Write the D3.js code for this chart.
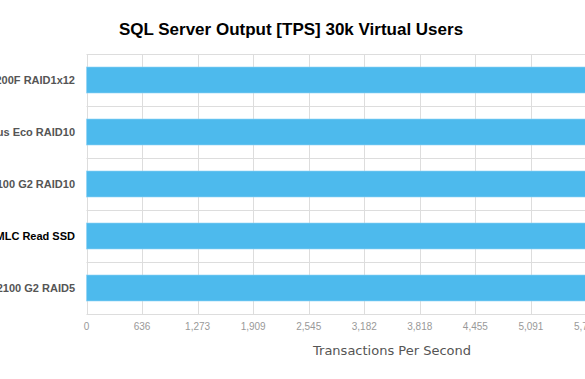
<!DOCTYPE html>
<html>
<head>
<meta charset="utf-8">
<script src="https://cdn.jsdelivr.net/npm/d3@7"></script>
<style>
  html, body { margin: 0; padding: 0; background: #fff; overflow: hidden; }
  svg { display: block; }
</style>
</head>
<body>
<svg id="chart" width="585" height="379"></svg>
<script>
// Data (bars extend past the visible area in the reference; values estimated)
const categories = [
  "200F RAID1x12",
  "us Eco RAID10",
  "100 G2 RAID10",
  "MLC Read SSD",
  "2100 G2 RAID5"
];
const tpsValues = [6200, 6150, 6250, 6300, 6100];
const highlighted = [false, false, false, true, false];
const tickValues = [0, 636.36, 1272.73, 1909.09, 2545.45, 3181.82, 3818.18, 4454.55, 5090.91, 5727.27, 6363.64, 7000];
const titleText = "SQL Server Output [TPS] 30k Virtual Users";
const xTitle = "Transactions Per Second";

const svg = d3.select("#chart");
const mLeft = 86.5, mTop = 54, mBottom = 314;
const plotRight = mLeft + 11 * 55.55;

const x = d3.scaleLinear().domain([0, 7000]).range([mLeft, plotRight]);
const y = d3.scaleBand().domain(categories).range([mTop, mBottom]).padding(0);

// grid: vertical
svg.append("g").selectAll("line").data(tickValues).join("line")
  .attr("x1", d => Math.round(x(d)) + 0.5).attr("x2", d => Math.round(x(d)) + 0.5)
  .attr("y1", mTop).attr("y2", mBottom)
  .attr("stroke", "#dddddd").attr("stroke-width", 1);

// grid: horizontal at band boundaries
const hLines = categories.map(c => y(c)).concat([mBottom]);
svg.append("g").selectAll("line").data(hLines).join("line")
  .attr("x1", mLeft).attr("x2", plotRight)
  .attr("y1", d => Math.round(d) + 0.5).attr("y2", d => Math.round(d) + 0.5)
  .attr("stroke", "#dddddd").attr("stroke-width", 1);

// bars
const bw = y.bandwidth();
svg.append("g").selectAll("rect").data(categories).join("rect")
  .attr("x", x(0))
  .attr("y", c => y(c) + bw * 0.25)
  .attr("width", (c, i) => x(tpsValues[i]) - x(0))
  .attr("height", bw * 0.5)
  .attr("fill", "#4dbaed")
  .attr("stroke", "#8fd3f5").attr("stroke-width", 0.6);

// category labels
svg.append("g").selectAll("text").data(categories).join("text")
  .attr("x", 75)
  .attr("y", c => y(c) + bw / 2)
  .attr("dy", "0.35em")
  .attr("text-anchor", "end")
  .attr("font-family", "Liberation Sans, Arial, Helvetica, sans-serif")
  .attr("font-weight", "bold")
  .attr("font-size", "11px")
  .attr("fill", (c, i) => highlighted[i] ? "#000000" : "#555555")
  .text(c => c);

// x tick labels
const fmt = d3.format(",.0f");
svg.append("g").selectAll("text").data(tickValues).join("text")
  .attr("x", d => x(d))
  .attr("y", 330)
  .attr("text-anchor", "middle")
  .attr("font-family", "Liberation Sans, Arial, Helvetica, sans-serif")
  .attr("font-size", "10px")
  .attr("fill", "#999999")
  .text(d => fmt(d));

// x axis title
svg.append("text")
  .attr("x", (mLeft + plotRight) / 2)
  .attr("y", 355)
  .attr("text-anchor", "middle")
  .attr("font-family", "DejaVu Sans, sans-serif")
  .attr("font-size", "13px")
  .attr("fill", "#555555")
  .text(xTitle);

// chart title
svg.append("text")
  .attr("x", 291)
  .attr("y", 35)
  .attr("text-anchor", "middle")
  .attr("font-family", "Liberation Sans, Arial, Helvetica, sans-serif")
  .attr("font-weight", "bold")
  .attr("font-size", "17px")
  .attr("fill", "#000000")
  .text(titleText);
</script>
</body>
</html>
